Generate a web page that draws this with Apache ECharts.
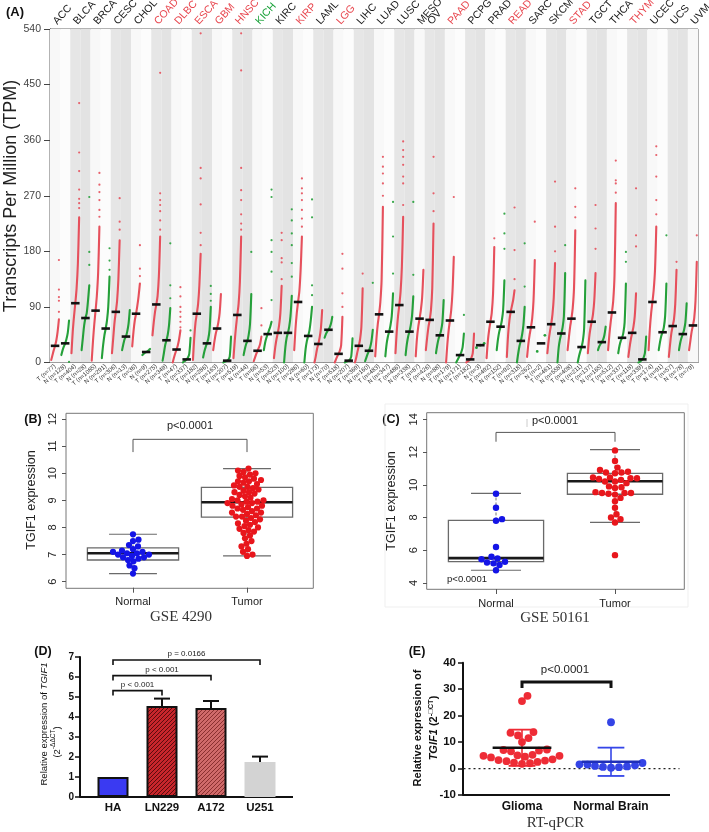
<!DOCTYPE html>
<html><head><meta charset="utf-8">
<script src="https://cdn.jsdelivr.net/npm/echarts@6.0.0/dist/echarts.min.js"></script>
<style>html,body{margin:0;padding:0;background:#fff}#c{width:709px;height:832px}</style>
</head><body><div id="c"></div>
<script>
// ---------------- DATA ----------------
// Panel A (GEPIA dot plot)
const cancerTypes = ['ACC','BLCA','BRCA','CESC','CHOL','COAD','DLBC','ESCA','GBM','HNSC','KICH','KIRC','KIRP','LAML','LGG','LIHC','LUAD','LUSC','MESO','OV','PAAD','PCPG','PRAD','READ','SARC','SKCM','STAD','TGCT','THCA','THYM','UCEC','UCS','UVM'];
const typeLabelKind = ['k','k','k','k','k','r','r','r','r','r','g','k','r','k','r','k','k','k','k','k','r','k','k','r','k','k','r','k','k','r','k','k','k'];
const tumorN  = [77,404,1085,306,36,275,47,182,163,519,66,523,286,173,518,369,483,486,87,426,179,182,492,92,262,461,408,137,512,118,174,57,79];
const normalN = [128,28,291,13,9,349,337,286,207,44,53,100,60,70,207,160,347,338,null,88,171,3,152,318,2,558,211,165,337,339,91,78,null];
// per column (T,N order): sorted curve values (evenly spaced ranks), outlier dots, medians
const colCurves = [
 [4,12,20,27,36,50,70],[12,20,26,31,38,48,68],
 [15,50,75,96,120,160,235],[20,40,60,72,80,100,125],
 [3,35,62,84,108,145,220],[7,28,44,55,68,90,139],
 [15,40,65,82,100,135,198],[20,30,38,42,50,62,85],
 [26,50,68,79,92,108,128],[12,14,16,17,18,20,22],
 [44,65,82,94,108,140,204],[3,15,28,36,45,60,88],
 [0,8,15,21,28,38,52],[0,2,3,5,8,14,40],
 [4,40,65,79,95,125,176],[8,18,25,31,38,52,90],
 [20,35,47,55,65,80,111],[0,1,2,3,5,10,42],
 [7,35,58,77,95,130,204],[12,22,30,35,45,62,111],
 [2,8,14,19,24,30,42],[20,32,40,46,52,58,66],
 [7,25,38,48,60,80,124],[0,25,40,48,58,75,108],
 [20,55,80,98,115,150,204],[0,22,35,43,52,68,90],
 [0,10,22,30,40,55,85],[40,46,50,53,57,63,74],
 [0,5,10,14,19,28,74],[0,1,2,3,5,10,39],
 [0,8,18,27,38,58,120],[2,8,14,19,25,35,53],
 [10,40,62,78,98,135,252],[10,30,42,50,60,75,112],
 [15,50,75,93,115,155,236],[12,30,42,50,60,75,107],
 [10,40,58,71,85,105,150],
 [20,40,57,69,85,120,225],[15,28,38,44,52,65,101],
 [0,30,52,68,85,115,171],[0,4,8,12,17,25,47],
 [0,2,3,5,8,15,47],[24,28,31],
 [7,35,53,66,80,110,187],[20,38,50,58,68,85,133],
 [9,45,68,82,92,102,117],[0,15,27,35,45,60,90],
 [9,30,45,57,72,100,166],[18,44],
 [15,35,50,62,78,105,161],[0,25,38,47,57,75,145],
 [20,40,58,71,88,120,214],[0,10,18,25,35,55,133],
 [15,40,55,66,78,100,145],[20,26,30,33,37,44,58],
 [20,45,65,81,100,140,258],[15,27,35,40,48,65,128],
 [9,25,38,48,58,75,112],[0,1,3,5,8,15,42],
 [20,55,80,98,118,150,220],[20,33,43,49,57,75,128],
 [9,30,48,59,70,95,150],[20,32,40,46,53,65,96],
 [20,35,50,60,72,100,163]
];
const colOutliers = [
 [82,100,106,118,166],[1],
 [250,258,265,280,310,340,420],[158,179,268],
 [236,247,263,276,288,307],[150,165,185],
 [215,228,266],[],
 [140,152,190],[],
 [215,230,245,255,263,274,469],[104,125,193],
 [57,66,74,82,90,107,122],[52],
 [190,210,256,298,315,533],[100,111,124],
 [],[],
 [215,225,240,263,279,315,473,533],[179],
 [60,88],[101,147,179,198,268,280],
 [135,162,169,198,210],[139,161,190,209,230,248],
 [220,233,247,263,274,282,298],[109,125,235,264],
 [],[],
 [90,112,152,176],[],
 [144],[129],
 [270,290,306,317,333],[144,204,260],
 [255,290,301,320,333,344,358],[142,260],
 [],
 [245,274,333],[],
 [268],[77],
 [],[],
 [201],[184,209,241],
 [135,182,251],[123,193],
 [228],[],
 [180,220,293],[190],
 [235,252,282],[],
 [184,217,255],[],
 [275,290,295,327],[163,179],
 [188,206,282],[],
 [240,263,301,336,350],[206],
 [163],[],
 [206]
];
const colMedians = [27,31,96,72,84,55,82,42,79,17,94,36,21,5,79,31,55,3,77,35,19,46,48,48,98,43,30,53,14,3,27,19,78,50,93,50,71,69,44,68,12,5,28,66,58,82,35,57,31,62,47,71,25,66,33,81,40,48,5,98,49,59,46,60];
const tpmTicks = {min:0, max:540, step:90};

// Panel B (GSE 4290)
const groupsB = ['Normal','Tumor'];
const boxB = [[6.3,6.8,7.05,7.25,7.75],[6.95,8.38,8.93,9.48,10.17]];
const pointsB = [
 [7.75,7.55,7.5,7.35,7.3,7.2,7.15,7.1,7.1,7.05,7.05,7.0,7.0,6.95,6.9,6.9,6.85,6.8,6.75,6.6,6.5,6.3],
 [10.17,10.1,10.05,10.0,9.95,9.9,9.85,9.8,9.75,9.7,9.7,9.65,9.6,9.55,9.5,9.5,9.45,9.4,9.35,9.3,9.3,9.25,9.2,9.15,9.1,9.05,9.0,9.0,8.95,8.95,8.9,8.9,8.85,8.8,8.8,8.75,8.7,8.7,8.65,8.6,8.55,8.55,8.5,8.45,8.4,8.4,8.35,8.3,8.25,8.2,8.15,8.1,8.05,8.0,7.95,7.9,7.85,7.8,7.7,7.6,7.5,7.4,7.3,7.2,7.1,7.0,6.95]
];
const bracketB = [[0,1,11.25,10.78]];

// Panel C (GSE 50161)
const groupsC = ['Normal','Tumor'];
const boxC = [[4.78,5.3,5.52,7.82,9.47],[7.7,9.42,10.22,10.7,12.15]];
const pointsC = [
 [9.45,8.6,7.9,7.8,6.2,5.6,5.5,5.45,5.3,5.25,5.2,5.1,4.78],
 [12.1,11.45,11.05,10.9,10.8,10.75,10.75,10.7,10.45,10.45,10.4,10.4,10.35,10.3,10.2,10.2,10.1,9.9,9.85,9.8,9.55,9.5,9.5,9.5,9.45,9.4,9.2,9.0,8.6,8.2,8.0,7.9,7.7,5.7]
];
const bracketC = [[0,1,13.2,12.63]];

// Panel D (RT-qPCR cell lines)
const cellLines = ['HA','LN229','A172','U251'];
const cellMeans = [1.0,4.55,4.45,1.75];
const cellErr = [0,0.37,0.35,0.27];
const bracketD = [[0,1,5.32,5.07],[0,2,6.07,5.82],[0,3,6.85,6.6]];
const bracketDLabels = ['p < 0.001','p < 0.001','p = 0.0166'];

// Panel E (glioma vs normal brain)
const groupsE = ['Glioma','Normal Brain'];
const pointsE = [
 [27.5,25.5,13.8,13.5,12.5,11.5,10,7.2,7,6.8,6.5,5.2,5,4.8,4.8,4.5,4.2,3.5,3.2,3,2.8,2.5,2.2,2,1.8],
 [17.5,2.1,1.6,1.5,1.2,1.0,0.8,0.5,0.3,0.6]
];
const statsE = [[7.85,6.85],[2.55,5.35]]; // mean, SD
const bracketE = [[0,1,32.7,30.4]];

// ---------------- HELPERS ----------------
const FF = '"Liberation Sans", Arial, sans-serif';
const SERIF = '"Liberation Serif", "DejaVu Serif", serif';
const RED_A = '#e6505c', GREEN_A = '#25a03a';
const labelColor = {k:'#1a1a1a', r:'#e8474f', g:'#1aa23a'};

const COLS = [];
cancerTypes.forEach((t, ti) => {
  COLS.push({type: ti, kind: 'T', label: 'T (n=' + tumorN[ti] + ')', top: t});
  if (normalN[ti] != null) COLS.push({type: ti, kind: 'N', label: 'N (n=' + normalN[ti] + ')', top: ''});
});

function swarm(pts, minDist) {
  const order = pts.map((p, i) => i).sort((a, b) => pts[b].y - pts[a].y);
  const placed = []; const res = new Array(pts.length);
  order.forEach(i => {
    const p = pts[i]; let dxBest = 0;
    for (let k = 0; k < 600; k++) {
      const dx = (k % 2 === 1 ? 1 : -1) * Math.ceil(k / 2) * 0.5;
      let ok = true;
      for (const q of placed) {
        const a = p.x + dx - q.x, b = p.y - q.y;
        if (a * a + b * b < minDist * minDist) { ok = false; break; }
      }
      if (ok) { dxBest = dx; break; }
    }
    const r = {x: p.x + dxBest, y: p.y}; placed.push(r); res[i] = r;
  });
  return res;
}

function renderCurve(params, api) {
  const i = api.value(0);
  const c = api.coord([i, 0]);
  const bw = api.size([1, 0])[0];
  const color = COLS[i].kind === 'T' ? RED_A : GREEN_A;
  const span = bw * 0.76, x0 = c[0] - span / 2;
  const vals = colCurves[i], n = vals.length;
  const pts = vals.map((v, k) => [x0 + (n > 1 ? k / (n - 1) : 0.5) * span, api.coord([i, v])[1]]);
  const ch = [];
  if (n >= 5) ch.push({type: 'polyline', shape: {points: pts, smooth: 0.3}, style: {stroke: color, lineWidth: 2.1, fill: null, lineCap: 'round'}});
  else pts.forEach(p => ch.push({type: 'circle', shape: {cx: p[0], cy: p[1], r: 1.4}, style: {fill: color}}));
  colOutliers[i].forEach(v => ch.push({type: 'circle', shape: {cx: x0 + span, cy: api.coord([i, v])[1], r: 1.1}, style: {fill: color, opacity: 0.9}}));
  return {type: 'group', children: ch};
}
function renderMedian(params, api) {
  const i = api.value(0);
  const p = api.coord([i, api.value(1)]);
  const bw = api.size([1, 0])[0];
  return {type: 'rect', shape: {x: p[0] - bw * 0.42, y: p[1] - 1.3, width: bw * 0.84, height: 2.6}, style: {fill: '#111'}};
}
function makeBox(boxes) {
  return function (params, api) {
    const i = api.value(0), b = boxes[i];
    const bw = api.size([1, 0])[0];
    const cx = api.coord([i, b[2]])[0];
    const y = b.map(v => api.coord([i, v])[1]);
    const hw = bw * 0.4, cw = bw * 0.21;
    const st = {stroke: '#6a6a6a', lineWidth: 1.2};
    return {type: 'group', children: [
      {type: 'line', shape: {x1: cx, y1: y[3], x2: cx, y2: y[4]}, style: {stroke: '#777', lineWidth: 1, lineDash: [3, 2]}},
      {type: 'line', shape: {x1: cx, y1: y[1], x2: cx, y2: y[0]}, style: {stroke: '#777', lineWidth: 1, lineDash: [3, 2]}},
      {type: 'line', shape: {x1: cx - cw, y1: y[4], x2: cx + cw, y2: y[4]}, style: st},
      {type: 'line', shape: {x1: cx - cw, y1: y[0], x2: cx + cw, y2: y[0]}, style: st},
      {type: 'rect', shape: {x: cx - hw, y: y[3], width: 2 * hw, height: y[1] - y[3]}, style: {fill: null, stroke: '#6a6a6a', lineWidth: 1.3}},
      {type: 'line', shape: {x1: cx - hw, y1: y[2], x2: cx + hw, y2: y[2]}, style: {stroke: '#1a1a1a', lineWidth: 2.6}}
    ]};
  };
}
function makeSwarm(groups, colors, r, minDist) {
  return function (params, api) {
    const i = api.value(0);
    const pts = groups[i].map(v => { const p = api.coord([i, v]); return {x: p[0], y: p[1]}; });
    const placed = swarm(pts, minDist);
    return {type: 'group', children: placed.map(p => ({type: 'circle', shape: {cx: p.x, cy: p.y, r: r}, style: {fill: colors[i]}}))};
  };
}
function makeBracket(list, color, width, labels, font, gap) {
  return function (params, api) {
    const k = api.value(0), b = list[k];
    const a1 = api.coord([b[0], b[2]]), a2 = api.coord([b[1], b[2]]);
    const l1 = api.coord([b[0], b[3]]), l2 = api.coord([b[1], b[3]]);
    const ch = [{type: 'polyline', shape: {points: [l1, a1, a2, l2]}, style: {stroke: color, lineWidth: width, fill: null}}];
    if (labels) ch.push({type: 'text', x: (a1[0] + a2[0]) / 2, y: a1[1] - gap, style: {text: labels[k], font: font, fill: '#222', align: 'center', verticalAlign: 'bottom', textAlign: 'center', textVerticalAlign: 'bottom'}});
    return {type: 'group', children: ch};
  };
}
function renderErr(params, api) {
  const i = api.value(0);
  if (!cellErr[i]) return null;
  const top = api.coord([i, cellMeans[i] + cellErr[i]]);
  const base = api.coord([i, cellMeans[i]]);
  return {type: 'group', children: [
    {type: 'line', shape: {x1: top[0], y1: base[1], x2: top[0], y2: top[1]}, style: {stroke: '#111', lineWidth: 2}},
    {type: 'line', shape: {x1: top[0] - 8, y1: top[1], x2: top[0] + 8, y2: top[1]}, style: {stroke: '#111', lineWidth: 2}}
  ]};
}
const statColors = [['#111', '#ee2a34'], ['#1f2fb8', '#3546e8']];
function renderStats(params, api) {
  const i = api.value(0), m = statsE[i][0], sd = statsE[i][1];
  const bw = api.size([1, 0])[0];
  const pm = api.coord([i, m]), pu = api.coord([i, m + sd]), pl = api.coord([i, m - sd]);
  const hw = bw * 0.33, cw = bw * 0.15;
  const c = statColors[i];
  return {type: 'group', children: [
    {type: 'line', shape: {x1: pm[0], y1: pu[1], x2: pm[0], y2: pl[1]}, style: {stroke: c[1], lineWidth: 1.6}},
    {type: 'line', shape: {x1: pm[0] - cw, y1: pu[1], x2: pm[0] + cw, y2: pu[1]}, style: {stroke: c[1], lineWidth: 1.8}},
    {type: 'line', shape: {x1: pm[0] - cw, y1: pl[1], x2: pm[0] + cw, y2: pl[1]}, style: {stroke: c[1], lineWidth: 1.8}},
    {type: 'line', shape: {x1: pm[0] - hw, y1: pm[1], x2: pm[0] + hw, y2: pm[1]}, style: {stroke: c[0], lineWidth: 2.4}}
  ]};
}
function renderZero(params, api) {
  const p = api.coord([0, 0]);
  const cs = params.coordSys;
  return {type: 'line', shape: {x1: cs.x - 14, y1: p[1], x2: cs.x + cs.width + 24, y2: p[1]}, style: {stroke: '#222', lineWidth: 1.2, lineDash: [2, 3]}};
}
function hatch(base, line, step, lw) {
  const c = document.createElement('canvas'); c.width = step; c.height = step;
  const g = c.getContext('2d'); g.fillStyle = base; g.fillRect(0, 0, step, step);
  g.strokeStyle = line; g.lineWidth = lw; g.beginPath();
  [-step, 0, step].forEach(o => { g.moveTo(o, step); g.lineTo(o + step, 0); });
  g.stroke();
  return {image: c, repeat: 'repeat'};
}
const barStyles = [
  {color: '#3a3af2', borderColor: '#111', borderWidth: 2},
  {color: hatch('#c8262c', '#5a0c0e', 4, 1), borderColor: '#111', borderWidth: 2},
  {color: hatch('#d06a6a', '#8a3030', 4, 1), borderColor: '#111', borderWidth: 2},
  {color: '#d3d3d3', borderWidth: 0}
];

// ---------------- CHART ----------------
const chart = echarts.init(document.getElementById('c'), null, {renderer: 'canvas', width: 709, height: 832});
const gridBase = {outerBoundsMode: 'none', containLabel: false};
const option = {
  animation: false,
  backgroundColor: '#fff',
  textStyle: {fontFamily: FF},
  grid: [
    Object.assign({left: 50, right: 11, top: 29, bottom: 469.5, show: true, borderColor: '#666', borderWidth: 1}, gridBase),
    Object.assign({left: 76, right: 405, top: 419, bottom: 250.3}, gridBase),
    Object.assign({left: 436.5, right: 34.5, top: 419.3, bottom: 249}, gridBase),
    Object.assign({left: 88.5, right: 424.5, top: 657, bottom: 35}, gridBase),
    Object.assign({left: 477.5, right: 53.5, top: 662.7, bottom: 37}, gridBase)
  ],
  xAxis: [
    {gridIndex: 0, type: 'category', data: COLS.map(c => c.label), axisLine: {lineStyle: {color: '#444'}}, axisTick: {show: false},
     axisLabel: {interval: 0, rotate: 40, fontSize: 6, color: '#333', margin: 3}},
    {gridIndex: 0, type: 'category', position: 'top', data: COLS.map(c => c.top), axisLine: {show: false}, axisTick: {show: false},
     axisLabel: {interval: 0, rotate: -48, align: 'left', verticalAlign: 'middle', fontSize: 10.5, margin: 6, color: (v, i) => labelColor[typeLabelKind[COLS[i].type]]}},
    {gridIndex: 1, type: 'category', data: groupsB, offset: 6, axisLine: {show: false}, axisTick: {show: true, alignWithLabel: true, length: 5, lineStyle: {color: '#555'}},
     axisLabel: {interval: 0, fontSize: 11, color: '#222', margin: 9}},
    {gridIndex: 2, type: 'category', data: groupsC, offset: 6, axisLine: {show: false}, axisTick: {show: true, alignWithLabel: true, length: 5, lineStyle: {color: '#555'}},
     axisLabel: {interval: 0, fontSize: 11, color: '#222', margin: 9}},
    {gridIndex: 3, type: 'category', data: cellLines, axisLine: {show: false}, axisTick: {show: false},
     axisLabel: {interval: 0, fontSize: 11.5, fontWeight: 'bold', color: '#111', margin: 5}},
    {gridIndex: 4, type: 'category', data: groupsE, axisLine: {show: false}, axisTick: {show: false},
     axisLabel: {interval: 0, fontSize: 12, fontWeight: 'bold', color: '#111', margin: 6, hideOverlap: false}}
  ],
  yAxis: [
    {gridIndex: 0, type: 'value', min: tpmTicks.min, max: tpmTicks.max, interval: tpmTicks.step, axisLine: {show: true, lineStyle: {color: '#444'}},
     axisTick: {show: true, length: 6, lineStyle: {color: '#444'}}, splitLine: {show: false}, axisLabel: {fontSize: 10.5, color: '#444', margin: 9}},
    {gridIndex: 1, type: 'value', min: 6, max: 12, interval: 1, offset: 10, axisLine: {show: false}, axisTick: {show: true, length: 4, lineStyle: {color: '#555'}},
     splitLine: {show: false}, axisLabel: {rotate: 90, fontSize: 11, color: '#222', margin: 8}},
    {gridIndex: 2, type: 'value', min: 4, max: 14, interval: 2, offset: 9.5, axisLine: {show: false}, axisTick: {show: true, length: 4, lineStyle: {color: '#555'}},
     splitLine: {show: false}, axisLabel: {rotate: 90, fontSize: 11, color: '#222', margin: 8}},
    {gridIndex: 3, type: 'value', min: 0, max: 7, interval: 1, offset: 8.5, axisLine: {show: true, lineStyle: {color: '#111', width: 2}},
     axisTick: {show: true, length: 5, lineStyle: {color: '#111', width: 1.5}}, splitLine: {show: false}, axisLabel: {fontSize: 10, fontWeight: 'bold', color: '#111', margin: 6}},
    {gridIndex: 4, type: 'value', min: -10, max: 40, interval: 10, offset: 14.5, axisLine: {show: true, lineStyle: {color: '#111', width: 2}},
     axisTick: {show: true, length: 5, lineStyle: {color: '#111', width: 1.5}}, splitLine: {show: false}, axisLabel: {fontSize: 11.5, fontWeight: 'bold', color: '#111', margin: 7}}
  ],
  series: [
    // Panel A
    {type: 'bar', xAxisIndex: 0, yAxisIndex: 0, silent: true, barCategoryGap: '0%', z: 1,
     data: COLS.map(c => ({value: tpmTicks.max, itemStyle: {color: c.type % 2 === 1 ? (c.kind === 'T' ? '#e6e6e6' : '#e3e3e3') : (c.kind === 'T' ? '#f8f8f8' : '#fcfcfc')}}))},
    {type: 'custom', xAxisIndex: 0, yAxisIndex: 0, silent: true, z: 3, renderItem: renderCurve, data: COLS.map((c, i) => [i, colMedians[i]])},
    {type: 'custom', xAxisIndex: 0, yAxisIndex: 0, silent: true, z: 4, renderItem: renderMedian, data: COLS.map((c, i) => [i, colMedians[i]])},
    // Panel B
    {type: 'custom', xAxisIndex: 2, yAxisIndex: 1, silent: true, z: 2, renderItem: makeBox(boxB), data: boxB.map((b, i) => [i, b[2]])},
    {type: 'custom', xAxisIndex: 2, yAxisIndex: 1, silent: true, z: 3, renderItem: makeSwarm(pointsB, ['#1414e6', '#e8161c'], 3.1, 5.6), data: pointsB.map((p, i) => [i, p[0]])},
    {type: 'custom', xAxisIndex: 2, yAxisIndex: 1, silent: true, z: 3, renderItem: makeBracket(bracketB, '#555', 1, null), data: bracketB.map((b, i) => [i, b[2]])},
    // Panel C
    {type: 'custom', xAxisIndex: 3, yAxisIndex: 2, silent: true, z: 2, renderItem: makeBox(boxC), data: boxC.map((b, i) => [i, b[2]])},
    {type: 'custom', xAxisIndex: 3, yAxisIndex: 2, silent: true, z: 3, renderItem: makeSwarm(pointsC, ['#1414e6', '#e8161c'], 3.2, 6.2), data: pointsC.map((p, i) => [i, p[0]])},
    {type: 'custom', xAxisIndex: 3, yAxisIndex: 2, silent: true, z: 3, renderItem: makeBracket(bracketC, '#555', 1, null), data: bracketC.map((b, i) => [i, b[2]])},
    // Panel D
    {type: 'bar', xAxisIndex: 4, yAxisIndex: 3, silent: true, barWidth: 31, z: 2, data: cellMeans.map((v, i) => ({value: v, itemStyle: barStyles[i]}))},
    {type: 'custom', xAxisIndex: 4, yAxisIndex: 3, silent: true, z: 1, renderItem: renderErr, data: cellMeans.map((v, i) => [i, v + cellErr[i]])},
    {type: 'custom', xAxisIndex: 4, yAxisIndex: 3, silent: true, z: 3, renderItem: makeBracket(bracketD, '#111', 1.6, bracketDLabels, '8px ' + FF, 2), data: bracketD.map((b, i) => [i, b[2]])},
    // Panel E
    {type: 'custom', xAxisIndex: 5, yAxisIndex: 4, silent: true, z: 1, renderItem: renderZero, data: [[0, 0]]},
    {type: 'custom', xAxisIndex: 5, yAxisIndex: 4, silent: true, z: 2, renderItem: makeSwarm(pointsE, ['#ee2c36', '#3444e6'], 3.9, 7.6), data: pointsE.map((p, i) => [i, p[0]])},
    {type: 'custom', xAxisIndex: 5, yAxisIndex: 4, silent: true, z: 3, renderItem: renderStats, data: statsE.map((s, i) => [i, s[0]])},
    {type: 'custom', xAxisIndex: 5, yAxisIndex: 4, silent: true, z: 3, renderItem: makeBracket(bracketE, '#111', 3, null), data: bracketE.map((b, i) => [i, b[2]])}
  ],
  graphic: [
    {type: 'text', x: 15, y: 12, style: {text: '(A)', fontSize: 13, fontWeight: 'bold', fontFamily: FF, fill: '#111', align: 'center', verticalAlign: 'middle', textAlign: 'center', textVerticalAlign: 'middle'}},
    {type: 'text', x: 33, y: 420, style: {text: '(B)', fontSize: 12.5, fontWeight: 'bold', fontFamily: FF, fill: '#111', align: 'center', verticalAlign: 'middle', textAlign: 'center', textVerticalAlign: 'middle'}},
    {type: 'text', x: 391, y: 420, style: {text: '(C)', fontSize: 12.5, fontWeight: 'bold', fontFamily: FF, fill: '#111', align: 'center', verticalAlign: 'middle', textAlign: 'center', textVerticalAlign: 'middle'}},
    {type: 'text', x: 43, y: 652, style: {text: '(D)', fontSize: 12.5, fontWeight: 'bold', fontFamily: FF, fill: '#111', align: 'center', verticalAlign: 'middle', textAlign: 'center', textVerticalAlign: 'middle'}},
    {type: 'text', x: 417, y: 652, style: {text: '(E)', fontSize: 12.5, fontWeight: 'bold', fontFamily: FF, fill: '#111', align: 'center', verticalAlign: 'middle', textAlign: 'center', textVerticalAlign: 'middle'}},
    {type: 'text', x: 11, y: 196, rotation: Math.PI / 2, style: {text: 'Transcripts Per Million (TPM)', fontSize: 18, fontFamily: FF, fill: '#222', align: 'center', verticalAlign: 'middle', textAlign: 'center', textVerticalAlign: 'middle'}},
    {type: 'text', x: 31.5, y: 500, rotation: Math.PI / 2, style: {text: 'TGIF1 expression', fontSize: 12.5, fontFamily: FF, fill: '#222', align: 'center', verticalAlign: 'middle', textAlign: 'center', textVerticalAlign: 'middle'}},
    {type: 'text', x: 392, y: 501, rotation: Math.PI / 2, style: {text: 'TGIF1 expression', fontSize: 12.5, fontFamily: FF, fill: '#222', align: 'center', verticalAlign: 'middle', textAlign: 'center', textVerticalAlign: 'middle'}},
    {type: 'rect', shape: {x: 66, y: 413.3, width: 247.3, height: 175}, style: {fill: null, stroke: '#777', lineWidth: 1}},
    {type: 'rect', shape: {x: 426.7, y: 412.7, width: 257.6, height: 176.6}, style: {fill: null, stroke: '#777', lineWidth: 1}},
    {type: 'rect', shape: {x: 385, y: 404, width: 303, height: 203}, style: {fill: null, stroke: '#efefef', lineWidth: 1}},
    {type: 'line', shape: {x1: 527, y1: 419, x2: 527, y2: 427}, style: {stroke: '#ccc', lineWidth: 1}},
    {type: 'text', x: 190, y: 426, style: {text: 'p<0.0001', fontSize: 11, fontFamily: FF, fill: '#222', align: 'center', verticalAlign: 'middle', textAlign: 'center', textVerticalAlign: 'middle'}},
    {type: 'text', x: 555, y: 421, style: {text: 'p<0.0001', fontSize: 11, fontFamily: FF, fill: '#222', align: 'center', verticalAlign: 'middle', textAlign: 'center', textVerticalAlign: 'middle'}},
    {type: 'text', x: 467, y: 579, style: {text: 'p<0.0001', fontSize: 9.5, fontFamily: FF, fill: '#222', align: 'center', verticalAlign: 'middle', textAlign: 'center', textVerticalAlign: 'middle'}},
    {type: 'text', x: 565, y: 670, style: {text: 'p<0.0001', fontSize: 11.5, fontFamily: FF, fill: '#222', align: 'center', verticalAlign: 'middle', textAlign: 'center', textVerticalAlign: 'middle'}},
    {type: 'text', x: 181, y: 617, style: {text: 'GSE 4290', fontSize: 15, fontFamily: SERIF, fill: '#333', align: 'center', verticalAlign: 'middle', textAlign: 'center', textVerticalAlign: 'middle'}},
    {type: 'text', x: 555, y: 618, style: {text: 'GSE 50161', fontSize: 15, fontFamily: SERIF, fill: '#333', align: 'center', verticalAlign: 'middle', textAlign: 'center', textVerticalAlign: 'middle'}},
    {type: 'text', x: 555.5, y: 823, style: {text: 'RT-qPCR', fontSize: 15, fontFamily: SERIF, fill: '#333', align: 'center', verticalAlign: 'middle', textAlign: 'center', textVerticalAlign: 'middle'}},
    {type: 'line', shape: {x1: 80, y1: 797, x2: 293, y2: 797}, style: {stroke: '#111', lineWidth: 2}},
    {type: 'line', shape: {x1: 463, y1: 795, x2: 670, y2: 795}, style: {stroke: '#111', lineWidth: 2}},
    {type: 'text', x: 44, y: 724, rotation: Math.PI / 2, style: {text: 'Relative expression of {i|TGIF1}', fontSize: 9.5, fontFamily: FF, fill: '#111', align: 'center', verticalAlign: 'middle', textAlign: 'center', textVerticalAlign: 'middle',
      rich: {i: {fontSize: 9.5, fontStyle: 'italic', fontFamily: FF, fill: '#111'}}}},
    {type: 'text', x: 57, y: 742, rotation: Math.PI / 2, style: {text: '(2{s|-ΔΔCT})', fontSize: 9.5, fontFamily: FF, fill: '#111', align: 'center', verticalAlign: 'middle', textAlign: 'center', textVerticalAlign: 'middle', lineHeight: 14,
      rich: {s: {fontSize: 6.5, fontFamily: FF, fill: '#111', verticalAlign: 'top', lineHeight: 14}}}},
    {type: 'text', x: 418, y: 728, rotation: Math.PI / 2, style: {text: 'Relative expression of', fontSize: 11, fontWeight: 'bold', fontFamily: FF, fill: '#111', align: 'center', verticalAlign: 'middle', textAlign: 'center', textVerticalAlign: 'middle'}},
    {type: 'text', x: 434, y: 728, rotation: Math.PI / 2, style: {text: '{i|TGIF1} (2{s|-□CT})', fontSize: 11, fontWeight: 'bold', fontFamily: FF, fill: '#111', align: 'center', verticalAlign: 'middle', textAlign: 'center', textVerticalAlign: 'middle', lineHeight: 15,
      rich: {i: {fontSize: 11, fontWeight: 'bold', fontStyle: 'italic', fontFamily: FF, fill: '#111', lineHeight: 15}, s: {fontSize: 7.5, fontWeight: 'bold', fontFamily: FF, fill: '#111', verticalAlign: 'top', lineHeight: 15}}}}
  ]
};
chart.setOption(option);
</script></body></html>
